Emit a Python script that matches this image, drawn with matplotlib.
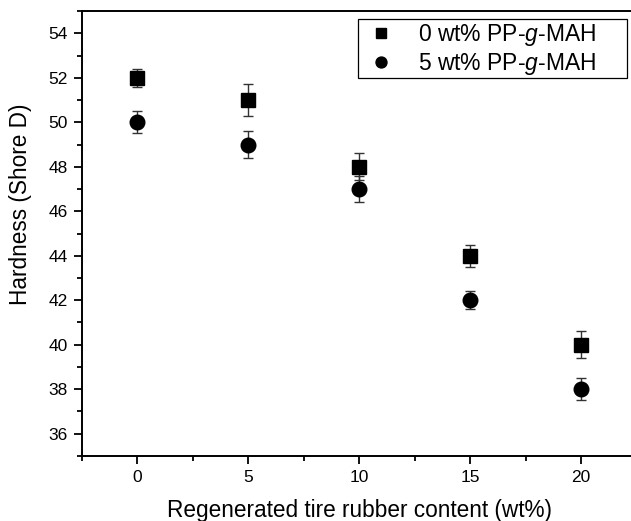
import matplotlib
matplotlib.use('Agg')
import matplotlib.pyplot as plt
from matplotlib.ticker import MultipleLocator
from matplotlib.patches import Rectangle

plt.rcParams['font.family'] = ['Liberation Sans', 'DejaVu Sans']
plt.rcParams['mathtext.fontset'] = 'custom'
plt.rcParams['mathtext.rm'] = 'Liberation Sans'
plt.rcParams['mathtext.it'] = 'Liberation Sans:italic'

# data
content = [0, 5, 10, 15, 20]
hard_0 = [52, 51, 48, 44, 40]
err_0 = [0.4, 0.7, 0.6, 0.5, 0.6]
hard_5 = [50, 49, 47, 42, 38]
err_5 = [0.5, 0.6, 0.6, 0.4, 0.5]
labels = ['0 wt% PP-$\\it{g}$-MAH', '5 wt% PP-$\\it{g}$-MAH']

fig = plt.figure(figsize=(6.31, 5.21), dpi=100)
ax = fig.add_axes([0.1295, 0.1248, 0.8796, 0.854])

ax.errorbar(content, hard_0, yerr=err_0, fmt='s', color='black', ms=9.5,
            ecolor='#333333', elinewidth=1, capsize=3.3, capthick=1, label=labels[0])
ax.errorbar(content, hard_5, yerr=err_5, fmt='o', color='black', ms=10.5,
            ecolor='#333333', elinewidth=1, capsize=3.3, capthick=1, label=labels[1])

ax.set_xlim(-2.5, 22.5)
ax.set_ylim(35, 55)
ax.xaxis.set_major_locator(MultipleLocator(5))
ax.xaxis.set_minor_locator(MultipleLocator(2.5))
ax.yaxis.set_major_locator(MultipleLocator(2))
ax.yaxis.set_minor_locator(MultipleLocator(1))
ax.tick_params(which='major', direction='out', length=6, width=1.3, labelsize=12.5, pad=4)
ax.tick_params(which='minor', direction='out', length=3.5, width=1.3)
for s in ax.spines.values():
    s.set_linewidth(1.4)

ax.set_xlabel('Regenerated tire rubber content (wt%)', fontsize=16.3, labelpad=10)
ax.set_ylabel('Hardness (Shore D)', fontsize=16.3)
ax.yaxis.set_label_coords(-0.09, 0.566)

handles, labs = ax.get_legend_handles_labels()
handles = [h[0] for h in handles]
leg = ax.legend(handles, labs, loc='upper right', bbox_to_anchor=(0.935, 0.985),
                fontsize=16.5, frameon=False, markerscale=0.75,
                handlelength=1.0, handletextpad=1.1,
                labelspacing=0.12, borderpad=0.2, borderaxespad=0)
# legend frame, drawn separately for its wide side padding
ax.add_patch(Rectangle((0.497, 0.850), 0.485, 0.132, transform=ax.transAxes,
                       fill=False, edgecolor='black', linewidth=0.9, zorder=5))

fig.savefig('out.png', dpi=100)
